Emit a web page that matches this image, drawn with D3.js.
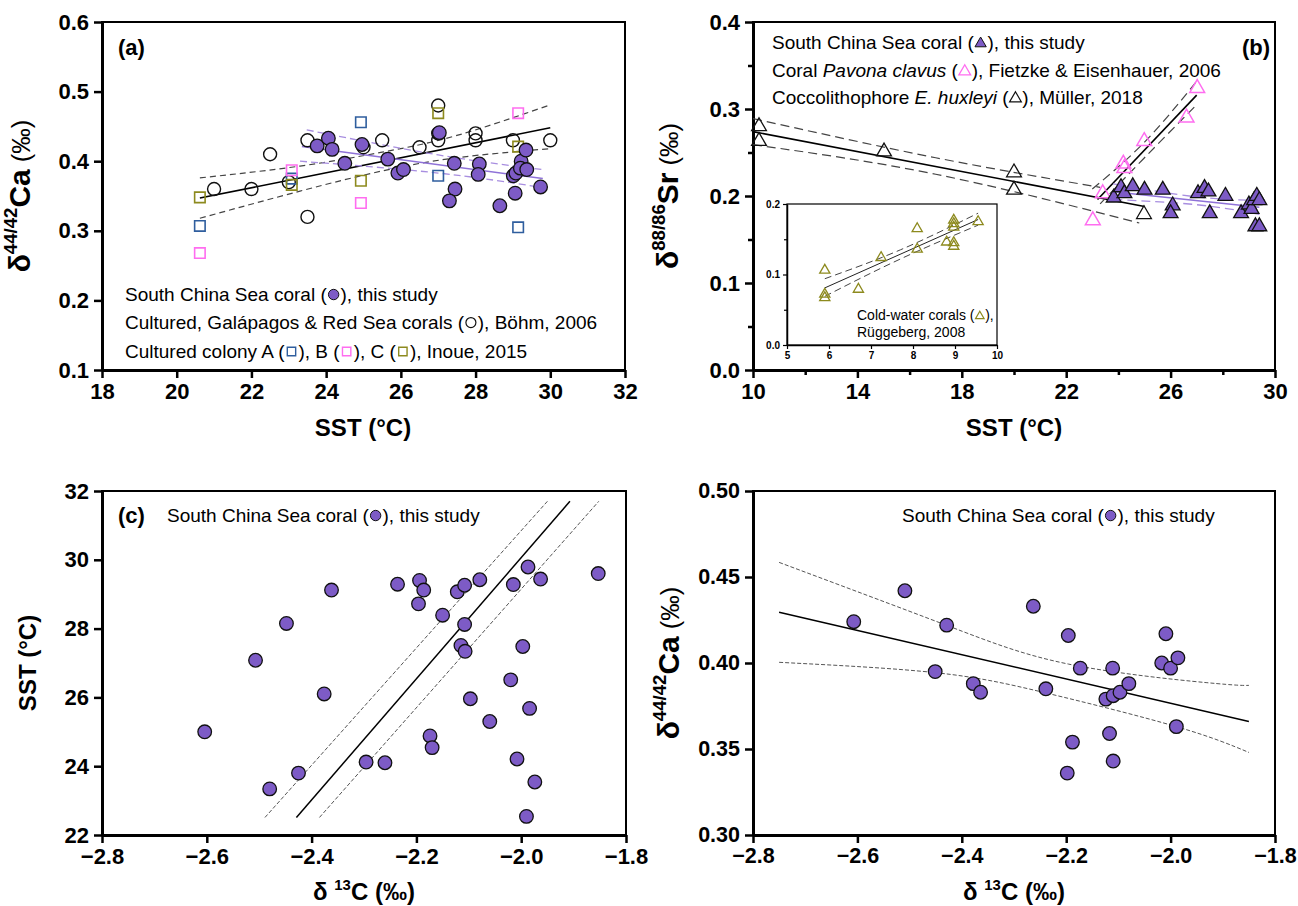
<!DOCTYPE html>
<html>
<head>
<meta charset="utf-8">
<script src="https://cdn.jsdelivr.net/npm/d3@7"></script>
<style>
  body { margin: 0; background: #fff; }
  svg { font-family: "Liberation Sans", Arial, Helvetica, sans-serif; }
</style>
</head>
<body>
<svg id="chart"></svg>
<script>
// ---- data ----
// (a) d44/42Ca vs SST
var aScs = [[23.76,0.422],[24.06,0.433],[24.16,0.417],[24.5,0.397],[24.96,0.424],[25.65,0.403],[25.92,0.383],[26.07,0.388],
  [27.03,0.441],[27.43,0.397],[27.45,0.360],[27.30,0.343],[28.10,0.396],[28.07,0.381],[28.65,0.336],[29.01,0.379],
  [29.06,0.354],[29.08,0.383],[29.22,0.400],[29.2,0.39],[29.37,0.388],[29.35,0.416],[29.74,0.363]];
var aBohm = [[21,0.36],[22,0.36],[22.5,0.41],[23,0.37],[23.5,0.32],[23.5,0.43],[25,0.42],[25.5,0.43],[26.5,0.42],
  [27,0.48],[27,0.44],[27,0.43],[28,0.44],[28,0.43],[29,0.43],[30,0.43]];
var aColA = [[20.62,0.307],[23.08,0.375],[24.93,0.456],[27.0,0.379],[29.14,0.305]];
var aColB = [[20.62,0.268],[23.08,0.387],[24.93,0.340],[29.14,0.469]];
var aColC = [[20.62,0.348],[23.08,0.366],[24.93,0.372],[27.0,0.469],[29.14,0.421]];
var aFitAll = [[20.62,0.347],[30,0.448]];
var aCiAllHi = [[20.62,0.376],[23.3,0.393],[25.5,0.413],[27.5,0.437],[30,0.481]];
var aCiAllLo = [[20.62,0.318],[23.3,0.357],[25.5,0.386],[27.5,0.405],[30,0.418]];
var aFitScs = [[23.35,0.421],[29.8,0.375]];
var aCiScsHi = [[23.48,0.445],[27,0.409],[29.8,0.388]];
var aCiScsLo = [[23.3,0.400],[27,0.383],[29.8,0.362]];

// (b) d88/86Sr vs SST
var bScs = [[23.82,0.198],[24.1,0.210],[24.23,0.203],[24.55,0.211],[25.0,0.207],[25.7,0.207],[26.08,0.189],[26.0,0.180],
  [27.05,0.203],[27.3,0.209],[27.45,0.205],[27.5,0.180],[28.1,0.200],[28.7,0.180],[29.0,0.190],[29.1,0.185],
  [29.2,0.195],[29.3,0.200],[29.25,0.165],[29.4,0.165],[29.4,0.195]];
var bPavona = [[27.02,0.324],[26.61,0.290],[24.99,0.263],[24.19,0.237],[24.23,0.232],[23.40,0.203],[23.02,0.172]];
var bMuller = [[10.23,0.280],[10.23,0.263],[15.02,0.251],[20.0,0.227],[20.0,0.207],[24.98,0.179]];
var bFitMuller = [[10,0.274],[25,0.188]];
var bCiMullerHi = [[10,0.289],[17,0.244],[23.3,0.210]];
var bCiMullerLo = [[10,0.259],[17,0.225],[24.8,0.169]];
var bFitPavona = [[23.2,0.196],[27.0,0.316]];
var bCiPavonaHi = [[23.0,0.208],[25,0.262],[26.95,0.330]];
var bCiPavonaLo = [[23.3,0.191],[25,0.244],[27.0,0.305]];
var bFitScs = [[23.8,0.205],[29.4,0.187]];
var bCiScsHi = [[23.8,0.214],[27,0.199],[29.4,0.195]];
var bCiScsLo = [[23.8,0.196],[27,0.190],[29.4,0.179]];
// inset: cold-water corals
var inCwc = [[5.9,0.106],[5.9,0.072],[5.9,0.067],[6.7,0.079],[7.24,0.124],[8.1,0.165],[8.1,0.136],[8.8,0.146],
  [8.97,0.177],[8.97,0.172],[8.97,0.167],[8.97,0.145],[8.97,0.140],[9.55,0.175]];
var inFit = [[5.9,0.081],[9.55,0.178]];
var inCiHi = [[5.9,0.094],[7.7,0.135],[9.55,0.187]];
var inCiLo = [[5.9,0.069],[7.7,0.122],[9.55,0.170]];

// (c) SST vs d13C
var cScs = [[-2.604,25.0],[-2.507,27.08],[-2.448,28.15],[-2.48,23.34],[-2.425,23.8],[-2.362,29.12],[-2.376,26.10],
  [-2.296,24.12],[-2.26,24.10],[-2.236,29.29],[-2.194,29.4],[-2.186,29.12],[-2.196,28.72],[-2.15,28.39],[-2.174,24.88],
  [-2.170,24.54],[-2.122,29.07],[-2.108,29.26],[-2.079,29.42],[-2.108,28.12],[-2.115,27.51],[-2.107,27.34],[-2.097,25.96],
  [-2.06,25.30],[-2.02,26.51],[-2.015,29.28],[-1.987,29.79],[-1.997,27.48],[-1.984,25.68],[-2.008,24.21],[-1.974,23.54],
  [-1.99,22.54],[-1.963,29.44],[-1.853,29.6]];
var cFit = [[-2.429,22.51],[-1.907,31.7]];
var cCiHi = [[-2.489,22.51],[-1.95,31.7]];
var cCiLo = [[-2.385,22.51],[-1.852,31.7]];

// (d) d44/42Ca vs d13C
var dScs = [[-2.607,0.424],[-2.509,0.442],[-2.429,0.422],[-2.451,0.395],[-2.378,0.388],[-2.364,0.383],[-2.263,0.433],
  [-2.239,0.385],[-2.196,0.416],[-2.173,0.397],[-2.188,0.354],[-2.198,0.336],[-2.111,0.397],[-2.117,0.359],[-2.110,0.343],
  [-2.124,0.379],[-2.110,0.381],[-2.097,0.383],[-2.080,0.388],[-2.009,0.417],[-2.017,0.400],[-2.0,0.397],[-1.986,0.403],
  [-1.989,0.363]];
var dFit = [[-2.75,0.4295],[-1.85,0.366]];
var dCiHi = [[-2.75,0.4585],[-2.43,0.422],[-2.196,0.3994],[-1.932,0.3886],[-1.85,0.387]];
var dCiLo = [[-2.75,0.4004],[-2.451,0.3944],[-2.239,0.3826],[-1.989,0.363],[-1.85,0.348]];

// ---- drawing ----
var purple = "#7d5bc6", lav = "#a88ee0", pink = "#ff6df0", blue = "#2f5e9e", olive = "#8d8a1e";
var svg = d3.select("#chart").attr("width", 1298).attr("height", 906);
svg.append("rect").attr("width", 1298).attr("height", 906).attr("fill", "#fff");

function mark(g, type, x, y, fill, stroke, sz, sw) {
  if (type === "circle") {
    g.append("circle").attr("cx", x).attr("cy", y).attr("r", sz)
      .attr("fill", fill).attr("stroke", stroke).attr("stroke-width", sw);
  } else {
    var t = type === "square" ? d3.symbolSquare : d3.symbolTriangle;
    g.append("path").attr("d", d3.symbol().type(t).size(sz)())
      .attr("transform", "translate(" + x + "," + y + ")")
      .attr("fill", fill).attr("stroke", stroke).attr("stroke-width", sw);
  }
}

function points(g, data, x, y, type, fill, stroke, sz, sw) {
  data.forEach(function(d) { mark(g, type, x(d[0]), y(d[1]), fill, stroke, sz, sw); });
}

function fline(g, data, x, y, color, width, dash) {
  var line = d3.line().x(d => x(d[0])).y(d => y(d[1])).curve(d3.curveNatural);
  g.append("path").datum(data).attr("d", line).attr("fill", "none")
    .attr("stroke", color).attr("stroke-width", width).attr("stroke-dasharray", dash || null);
}

function panel(x, y, xt, yt, xf, yf, opt) {
  var g = svg.append("g");
  var x0 = x.range()[0], x1 = x.range()[1], y0 = y.range()[0], y1 = y.range()[1];
  g.append("rect").attr("x", x0).attr("y", y1).attr("width", x1 - x0).attr("height", y0 - y1)
    .attr("fill", "none").attr("stroke", "#000").attr("stroke-width", opt.frame || 2);
  var fs = opt.fs || 22;
  if (opt.xminor) {
    g.append("g").attr("transform", "translate(0," + y0 + ")")
      .call(d3.axisBottom(x).tickValues(opt.xminor).tickSize(opt.minorLen || 5).tickFormat(""))
      .call(a => a.select(".domain").remove())
      .selectAll("line").attr("stroke-width", opt.tw || 2.5);
  }
  if (opt.yminor) {
    g.append("g").attr("transform", "translate(" + x0 + ",0)")
      .call(d3.axisLeft(y).tickValues(opt.yminor).tickSize(opt.minorLen || 5).tickFormat(""))
      .call(a => a.select(".domain").remove())
      .selectAll("line").attr("stroke-width", opt.tw || 2.5);
  }
  var xa = g.append("g").attr("transform", "translate(0," + y0 + ")")
    .call(d3.axisBottom(x).tickValues(xt).tickFormat(xf).tickSize(opt.tl || 8).tickSizeOuter(0).tickPadding(opt.pad || 5));
  var ya = g.append("g").attr("transform", "translate(" + x0 + ",0)")
    .call(d3.axisLeft(y).tickValues(yt).tickFormat(yf).tickSize(opt.tl || 8).tickSizeOuter(0).tickPadding(opt.pad || 5));
  [xa, ya].forEach(function(a) {
    a.attr("font-family", null).attr("font-size", null);
    a.select(".domain").attr("stroke-width", opt.aw || 3);
    a.selectAll(".tick line").attr("stroke-width", opt.tw || 2.5);
    a.selectAll(".tick text").attr("font-size", fs).attr("font-weight", "bold").attr("fill", "#000");
  });
  return g;
}

// inline legend line: text parts, marker, trailing text
function legendLine(g, x, y, parts, markFn, tail, fs) {
  var t = g.append("text").attr("x", x).attr("y", y).attr("font-size", fs);
  parts.forEach(function(p) { t.append("tspan").text(p[0]).attr("font-style", p[1] ? "italic" : "normal"); });
  var w = t.node().getComputedTextLength();
  var mw = fs * 0.62;
  markFn(g, x + w + mw / 2 + 1, y - fs * 0.34);
  g.append("text").attr("x", x + w + mw + 2).attr("y", y).attr("font-size", fs).text(tail);
}

function yTitle(cx, cy, big, sup, fs) {
  var t = svg.append("text").attr("transform", "translate(" + cx + "," + cy + ") rotate(-90)")
    .attr("text-anchor", "middle").attr("font-size", fs).attr("font-weight", "bold");
  t.append("tspan").text("δ");
  t.append("tspan").text(sup).attr("font-size", fs * 0.62).attr("dy", -fs * 0.42);
  t.append("tspan").text(big).attr("dy", fs * 0.42);
  t.append("tspan").text(" (‰)").attr("font-weight", "normal").attr("font-size", fs * 0.85);
}

function xTitleD13(cx, cy, fs) {
  var t = svg.append("text").attr("x", cx).attr("y", cy).attr("text-anchor", "middle")
    .attr("font-size", fs).attr("font-weight", "bold");
  t.append("tspan").text("δ ");
  t.append("tspan").text("13").attr("font-size", fs * 0.62).attr("dy", -fs * 0.42);
  t.append("tspan").text("C (‰)").attr("dy", fs * 0.42);
}

var fmt1 = d3.format(".1f"), fmt2 = d3.format(".2f"), fmt0 = d3.format("d");
var LF = 19;

// ================= (a) =================
var xA = d3.scaleLinear().domain([18, 32]).range([102, 625]);
var yA = d3.scaleLinear().domain([0.1, 0.6]).range([370, 22]);
var gA = panel(xA, yA, d3.range(18, 33, 2), [0.1,0.2,0.3,0.4,0.5,0.6], fmt0, fmt1, {});
fline(gA, aCiAllHi, xA, yA, "#444", 1.2, "6,4");
fline(gA, aCiAllLo, xA, yA, "#444", 1.2, "6,4");
fline(gA, aFitAll, xA, yA, "#000", 1.6);
fline(gA, aCiScsHi, xA, yA, lav, 1.3, "7,4");
fline(gA, aCiScsLo, xA, yA, lav, 1.3, "7,4");
fline(gA, aFitScs, xA, yA, "#8f72d8", 1.5);
points(gA, aBohm, xA, yA, "circle", "none", "#111", 6.5, 1.4);
points(gA, aColA, xA, yA, "square", "none", blue, 110, 1.6);
points(gA, aColB, xA, yA, "square", "none", pink, 110, 1.6);
points(gA, aColC, xA, yA, "square", "none", olive, 110, 1.6);
points(gA, aScs, xA, yA, "circle", purple, "#111", 6.8, 1.3);
gA.append("text").attr("x", 118).attr("y", 55).attr("font-size", 22).attr("font-weight", "bold").text("(a)");
legendLine(gA, 125, 301, [["South China Sea coral ("]], (g, x, y) => mark(g, "circle", x, y, purple, "#111", 5.2, 1), "), this study", LF);
legendLine(gA, 125, 329, [["Cultured, Galápagos & Red Sea corals ("]], (g, x, y) => mark(g, "circle", x, y, "none", "#111", 5, 1.2), "), Böhm, 2006", LF);
(function() {
  var segs = [["Cultured colony A (", blue], ["), B (", pink], ["), C (", olive]];
  var cx = 125;
  segs.forEach(function(s) {
    var tt = gA.append("text").attr("x", cx).attr("y", 358).attr("font-size", LF).text(s[0]);
    cx += tt.node().getComputedTextLength();
    mark(gA, "square", cx + 7, 358 - 6.5, "none", s[1], 70, 1.4);
    cx += 14;
  });
  gA.append("text").attr("x", cx).attr("y", 358).attr("font-size", LF).text("), Inoue, 2015");
})();
svg.append("text").attr("x", 363).attr("y", 436).attr("text-anchor", "middle").attr("font-size", 24)
  .attr("font-weight", "bold").text("SST (°C)");
yTitle(30, 196, "Ca", "44/42", 30);

// ================= (b) =================
var xB = d3.scaleLinear().domain([10, 30]).range([753, 1275]);
var yB = d3.scaleLinear().domain([0, 0.4]).range([370, 22]);
var gB = panel(xB, yB, [10,14,18,22,26,30], [0,0.1,0.2,0.3,0.4], fmt0, fmt1,
  {xminor: [12,16,20,24,28], yminor: [0.05,0.15,0.25,0.35]});
fline(gB, bCiMullerHi, xB, yB, "#444", 1.2, "9,5");
fline(gB, bCiMullerLo, xB, yB, "#444", 1.2, "9,5");
fline(gB, bFitMuller, xB, yB, "#000", 1.6);
fline(gB, bCiPavonaHi, xB, yB, "#444", 1.2, "9,5");
fline(gB, bCiPavonaLo, xB, yB, "#444", 1.2, "9,5");
fline(gB, bFitPavona, xB, yB, "#000", 1.6);
fline(gB, bCiScsHi, xB, yB, lav, 1.3, "9,5");
fline(gB, bCiScsLo, xB, yB, lav, 1.3, "9,5");
fline(gB, bFitScs, xB, yB, "#8f72d8", 1.5);
points(gB, bMuller, xB, yB, "triangle", "none", "#111", 95, 1.3);
points(gB, bPavona, xB, yB, "triangle", "none", pink, 95, 1.5);
points(gB, bScs, xB, yB, "triangle", purple, "#111", 95, 1.3);
gB.append("text").attr("x", 1242).attr("y", 55).attr("font-size", 22).attr("font-weight", "bold").text("(b)");
legendLine(gB, 772, 49, [["South China Sea coral ("]], (g, x, y) => mark(g, "triangle", x, y + 1, purple, "#111", 55, 1), "), this study", LF);
legendLine(gB, 772, 77, [["Coral "], ["Pavona clavus", true], [" ("]], (g, x, y) => mark(g, "triangle", x, y + 1, "none", pink, 60, 1.3), "), Fietzke & Eisenhauer, 2006", LF);
legendLine(gB, 772, 104, [["Coccolithophore "], ["E. huxleyi", true], [" ("]], (g, x, y) => mark(g, "triangle", x, y + 1, "none", "#111", 60, 1.2), "), Müller, 2018", LF);
svg.append("text").attr("x", 1014).attr("y", 436).attr("text-anchor", "middle").attr("font-size", 24)
  .attr("font-weight", "bold").text("SST (°C)");
yTitle(678, 196, "Sr", "88/86", 30);

// inset
var xI = d3.scaleLinear().domain([5, 10]).range([787, 997]);
var yI = d3.scaleLinear().domain([0, 0.2]).range([345, 204]);
svg.append("rect").attr("x", 787).attr("y", 204).attr("width", 210).attr("height", 141).attr("fill", "#fff");
var gI = panel(xI, yI, [5,6,7,8,9,10], [0,0.1,0.2], fmt0, fmt1,
  {yminor: [0.05, 0.15], fs: 10, tl: 4, minorLen: 3, aw: 1.5, tw: 1.2, frame: 1.2, pad: 3});
fline(gI, inCiHi, xI, yI, "#444", 1, "7,4");
fline(gI, inCiLo, xI, yI, "#444", 1, "7,4");
fline(gI, inFit, xI, yI, "#222", 1);
points(gI, inCwc, xI, yI, "triangle", "none", olive, 45, 1.3);
legendLine(gI, 857, 320, [["Cold-water corals ("]], (g, x, y) => mark(g, "triangle", x, y + 1, "none", olive, 32, 1.2), "),", 14);
gI.append("text").attr("x", 857).attr("y", 337).attr("font-size", 14).text("Rüggeberg, 2008");

// ================= (c) =================
var xC = d3.scaleLinear().domain([-2.8, -1.8]).range([102, 626]);
var yC = d3.scaleLinear().domain([22, 32]).range([835, 491]);
var gC = panel(xC, yC, [-2.8,-2.6,-2.4,-2.2,-2.0,-1.8], [22,24,26,28,30,32], fmt1, fmt0, {});
fline(gC, cCiHi, xC, yC, "#555", 1, "4,2");
fline(gC, cCiLo, xC, yC, "#555", 1, "4,2");
fline(gC, cFit, xC, yC, "#000", 1.5);
points(gC, cScs, xC, yC, "circle", purple, "#111", 6.8, 1.3);
gC.append("text").attr("x", 118).attr("y", 523).attr("font-size", 22).attr("font-weight", "bold").text("(c)");
legendLine(gC, 167, 522, [["South China Sea coral ("]], (g, x, y) => mark(g, "circle", x, y, purple, "#111", 5.2, 1), "), this study", LF);
xTitleD13(364, 900, 24);
svg.append("text").attr("transform", "translate(36,663) rotate(-90)").attr("text-anchor", "middle")
  .attr("font-size", 24).attr("font-weight", "bold").text("SST (°C)");

// ================= (d) =================
var xD = d3.scaleLinear().domain([-2.8, -1.8]).range([753, 1275]);
var yD = d3.scaleLinear().domain([0.3, 0.5]).range([835, 491]);
var gD = panel(xD, yD, [-2.8,-2.6,-2.4,-2.2,-2.0,-1.8], [0.30,0.35,0.40,0.45,0.50], fmt1, fmt2, {fs: 21.5});
fline(gD, dCiHi, xD, yD, "#555", 1, "4,2");
fline(gD, dCiLo, xD, yD, "#555", 1, "4,2");
fline(gD, dFit, xD, yD, "#000", 1.5);
points(gD, dScs, xD, yD, "circle", purple, "#111", 6.8, 1.3);
legendLine(gD, 902, 522, [["South China Sea coral ("]], (g, x, y) => mark(g, "circle", x, y, purple, "#111", 5.2, 1), "), this study", LF);
xTitleD13(1014, 900, 24);
yTitle(679, 663, "Ca", "44/42", 30);
</script>
</body>
</html>
